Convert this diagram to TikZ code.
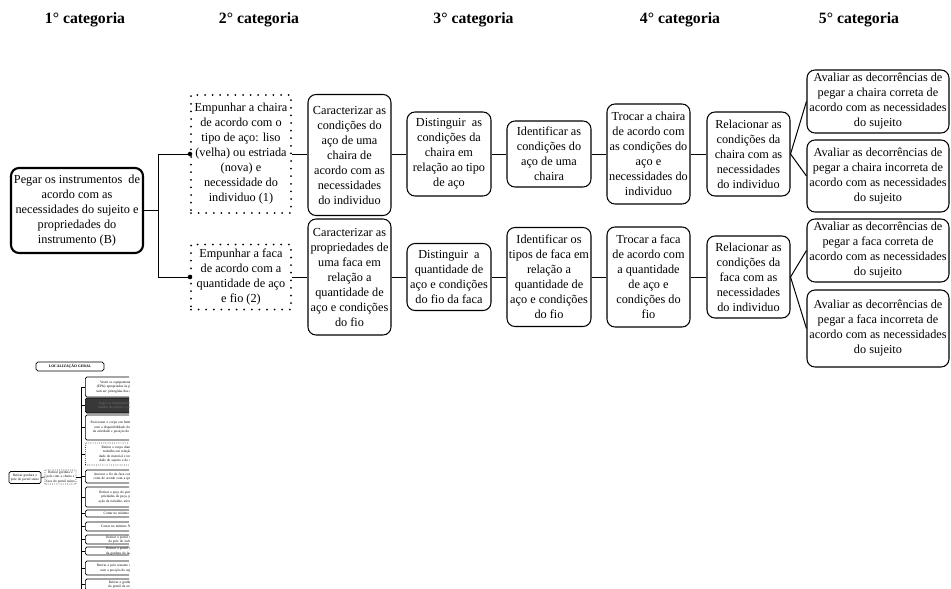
\documentclass[tikz,border=0pt]{standalone}
\usepackage{fontspec}
\setmainfont{Liberation Serif}
\begin{document}
\begin{tikzpicture}[x=0.75pt,y=-0.75pt,
  every node/.style={font=\fontsize{9.2}{11.25}\selectfont, align=center, inner sep=0pt},
  wh/.style n args={2}{minimum width=#1*0.75pt, minimum height=#2*0.75pt},
  stage/.style={draw, rounded corners=6pt, line width=0.8pt},
  rootbox/.style={draw, rounded corners=6pt, line width=1.6pt},
  dotbox/.style={draw, line width=1.5pt, dash pattern=on 0pt off 5.7pt, line cap=round},
  head/.style={font=\fontsize{11.8}{14}\selectfont\bfseries},
  link/.style={line width=0.75pt},
  mini/.style={draw, line width=0.45pt, rounded corners=1.2pt, font=\fontsize{2.6}{3.4}\selectfont, text width=86*0.75pt},
  minidot/.style={draw, line width=0.6pt, dash pattern=on 0pt off 1.4pt, line cap=round, font=\fontsize{2.6}{3.4}\selectfont},
  minilink/.style={line width=0.45pt},
]
\useasboundingbox (0,0) rectangle (951,589);

% category headings
\node[head] (h1) at (85,20)  {1° categoria};
\node[head] (h2) at (259,20) {2° categoria};
\node[head] (h3) at (473.5,20) {3° categoria};
\node[head] (h4) at (680,20) {4° categoria};
\node[head] (h5) at (859,20) {5° categoria};

% first category
\node[rootbox, wh={132}{85}] (B) at (77,210.5)
  {Pegar os instrumentos\ \ de\\acordo com as\\necessidades do sujeito e\\propriedades do\\instrumento (B)};

% second category
\node[dotbox, wh={100}{118}] (E1) at (241,154)
  {Empunhar a chaira\\de acordo com o\\tipo de aço: liso\\(velha) ou estriada\\(nova) e\\necessidade do\\individuo (1)};
\node[dotbox, wh={100}{65}] (E2) at (241,277)
  {Empunhar a faca\\de acordo com a\\quantidade de aço\\e fio (2)};

\node[stage, wh={83}{121}] (C1) at (349.5,155)
  {Caracterizar as\\condições do\\aço de uma\\chaira de\\acordo com as\\necessidades\\do individuo};
\node[stage, wh={83}{116}] (C2) at (349.5,277)
  {Caracterizar as\\propriedades de\\uma faca em\\relação a\\quantidade de\\aço e condições\\do fio};

% third category
\node[stage, wh={84}{84}] (D1) at (449,154)
  {Distinguir\ \ as\\condições da\\chaira em\\relação ao tipo\\de aço};
\node[stage, wh={84}{67}] (D2) at (449,277)
  {Distinguir\ \ a\\quantidade de\\aço e condições\\do fio da faca};

\node[stage, wh={84}{66}] (I1) at (549,154)
  {Identificar as\\condições do\\aço de uma\\chaira};
\node[stage, wh={84}{99}] (I2) at (549,277)
  {Identificar os\\tipos de faca em\\relação a\\quantidade de\\aço e condições\\do fio};

% fourth category
\node[stage, wh={83}{100}] (T1) at (648.5,154)
  {Trocar a chaira\\de acordo com\\as condições do\\aço e\\necessidades do\\individuo};
\node[stage, wh={83}{100}] (T2) at (648.5,277)
  {Trocar a faca\\de acordo com\\a quantidade\\de aço e\\condições do\\fio};

\node[stage, wh={83}{84}] (R1) at (748.5,154)
  {Relacionar as\\condições da\\chaira com as\\necessidades\\do individuo};
\node[stage, wh={83}{82}] (R2) at (748.5,277)
  {Relacionar as\\condições da\\faca com as\\necessidades\\do individuo};

% fifth category
\node[stage, wh={142}{63}] (A1) at (878,101.5)
  {Avaliar as decorrências de\\pegar a chaira correta de\\acordo com as necessidades\\do sujeito};
\node[stage, wh={142}{72}] (A2) at (878,176)
  {Avaliar as decorrências de\\pegar a chaira incorreta de\\acordo com as necessidades\\do sujeito};
\node[stage, wh={142}{63}] (A3) at (878,250.5)
  {Avaliar as decorrências de\\pegar a faca correta de\\acordo com as necessidades\\do sujeito};
\node[stage, wh={142}{77}] (A4) at (878,328.5)
  {Avaliar as decorrências de\\pegar a faca incorreta de\\acordo com as necessidades\\do sujeito};

% connectors
\coordinate (split) at (158,210.5);
\draw[link] (B.east) -- (split) |- (E1.west);
\draw[link] (split) |- (E2.west);
\fill (E1.west) circle (1.7pt);
\fill (E2.west) circle (1.7pt);

\draw[link] (E1.east) -- (C1.west |- E1.east);
\draw[link] (C1.east |- D1.west) -- (D1.west);
\draw[link] (D1) -- (I1);
\draw[link] (I1) -- (T1);
\draw[link] (T1) -- (R1);
\draw[link] (R1.east) -- (A1.west);
\draw[link] (R1.east) -- (A2.west);

\draw[link] (E2.east |- C2.west) -- (C2.west);
\draw[link] (C2) -- (D2);
\draw[link] (D2) -- (I2);
\draw[link] (I2) -- (T2);
\draw[link] (T2) -- (R2);
\draw[link] (R2.east) -- (A3.west);
\draw[link] (R2.east) -- (A4.west);

% overview map in the lower left corner
\begin{scope}
\clip (0,355) rectangle (129,589);
\node[draw, line width=0.6pt, rounded corners=1.4pt, wh={68}{9}, font=\fontsize{2.8}{3.4}\selectfont\bfseries] (mt) at (70,366.5) {LOCALIZAÇÃO GERAL};

\node[mini, text width=30*0.75pt, wh={32}{12}, line width=0.6pt] (ml) at (25,477.5)
  {Retirar gordura e pele do pernil suíno};
\node[minidot, text width=29*0.75pt, wh={31}{14}] (md) at (60.5,477)
  {Retirar gordura e pele com a chaira e faca do pernil suíno};

\node[mini, anchor=west, wh={95}{20}] (m1) at (85,387)
  {Vestir os equipamentos de proteção individual (EPIs) apropriados às partes do corpo que necessitam ser protegidas dos riscos físicos no abatedouro};
\node[mini, anchor=west, wh={95}{15}, fill=black!78, text=black!55] (m2) at (85,405.5)
  {Pegar os instrumentos de acordo com as necessidades do sujeito e propriedades do instrumento};
\node[mini, anchor=west, wh={95}{25}] (m3) at (85,427.5)
  {Posicionar o corpo em frente à mesa de trabalho de acordo com a disponibilidade do material, tempo de execução da atividade e posição do corpo que executa a atividade};
\node[minidot, anchor=west, wh={95}{22}, text width=86*0.75pt] (m4) at (85,454)
  {Retirar o corpo diante a posição da mesa de trabalho em relação ao corpo, disponibilidade do material e tempo de execução da atividade do sujeito e do colega que faz a atividade};
\node[mini, anchor=west, wh={95}{13}] (m5) at (85,476.5)
  {Ancorar o fio da faca com a chaira para que permita o corte de acordo com a quantidade de gordura e de pele};
\node[mini, anchor=west, wh={95}{20}] (m6) at (85,497)
  {Retirar a peça do pernil de acordo com as propriedades da peça, posição do sujeito e situação de trabalho, atividade sobre outras funções};
\node[mini, anchor=west, wh={95}{7}] (m7) at (85,513.5)
  {Cortar no mínimo 50\% da pele do pernil};
\node[mini, anchor=west, wh={95}{9}] (m8) at (85,526.5)
  {Cortar no mínimo 50\% da gordura do pernil};
\node[mini, anchor=west, wh={95}{9}] (m9) at (85,539.5)
  {Retirar o pernil com no mínimo 50\% da pele do lado direito a esquerdo};
\node[mini, anchor=west, wh={95}{8}] (m10) at (85,551)
  {Retirar o pernil com no mínimo 50\% da gordura do lado direito a esquerdo};
\node[mini, anchor=west, wh={95}{14}] (m11) at (85,568)
  {Retirar a pele restante do lado do pernil de acordo com a posição do sujeito e a peça de trabalho};
\node[mini, anchor=west, wh={95}{11}] (m12) at (85,584.5)
  {Retirar a gordura restante do lado do pernil de acordo com a posição};

\coordinate (spine) at (81,477);
\draw[minilink] (ml.east) -- (md.west);
\draw[minilink] (md.east) -- (spine);
\draw[minilink] (81,387) -- (81,600);
\foreach \k in {1,...,12} {\draw[minilink] (m\k.west) -- (m\k.west -| spine);}
\end{scope}
\end{tikzpicture}
\end{document}
